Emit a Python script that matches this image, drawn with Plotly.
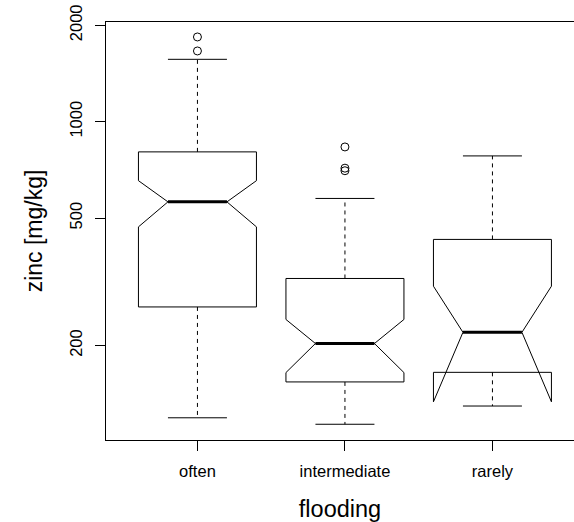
import plotly.graph_objects as go

# Zinc concentration by flooding frequency (notched boxplot summary statistics)
categories = ["often", "intermediate", "rarely"]
positions = [1, 2, 3]
lower_whisker = [119, 113.6, 129.5]
q1 = [264, 154, 165]
median = [562, 203, 220]
q3 = [805, 324, 429]
upper_whisker = [1566, 576, 782]
notch_span = [92.5, 38.3, 86.5]
outliers = {
    "often": [1839, 1663],
    "intermediate": [834, 716, 703],
    "rarely": [],
}
y_ticks = [200, 500, 1000, 2000]

BOX_WIDTH = 0.8
HALF = BOX_WIDTH / 2
CAP = HALF / 2
FONT = "Liberation Sans, Arial, Helvetica, sans-serif"

fig = go.Figure()

# Boxes with notches (whiskers drawn separately as dashed lines)
fig.add_trace(go.Box(
    x=positions,
    q1=q1, median=median, q3=q3,
    lowerfence=q1, upperfence=q3,
    notchspan=notch_span,
    notched=True, notchwidth=0.25,
    width=BOX_WIDTH, whiskerwidth=0, showwhiskers=False,
    line=dict(color="black", width=1),
    fillcolor="rgba(0,0,0,0)",
    boxpoints=False, hoverinfo="skip", showlegend=False,
))

# Dashed whiskers
wx, wy = [], []
for p, a, b, c, d in zip(positions, lower_whisker, q1, q3, upper_whisker):
    wx += [p, p, None, p, p, None]
    wy += [c, d, None, b, a, None]
fig.add_trace(go.Scatter(x=wx, y=wy, mode="lines",
                         line=dict(color="black", width=1, dash="4px,4px"),
                         hoverinfo="skip", showlegend=False))

# Whisker staples
sx, sy = [], []
for p, a, d in zip(positions, lower_whisker, upper_whisker):
    sx += [p - CAP, p + CAP, None, p - CAP, p + CAP, None]
    sy += [a, a, None, d, d, None]
fig.add_trace(go.Scatter(x=sx, y=sy, mode="lines",
                         line=dict(color="black", width=1),
                         hoverinfo="skip", showlegend=False))

# Thick median bars
mx, my = [], []
for p, m in zip(positions, median):
    mx += [p - CAP, p + CAP, None]
    my += [m, m, None]
fig.add_trace(go.Scatter(x=mx, y=my, mode="lines",
                         line=dict(color="black", width=3),
                         hoverinfo="skip", showlegend=False))

# Outlying points
ox, oy = [], []
for p, cat in zip(positions, categories):
    for v in outliers[cat]:
        ox.append(p)
        oy.append(v)
fig.add_trace(go.Scatter(x=ox, y=oy, mode="markers",
                         marker=dict(symbol="circle-open", size=8,
                                     color="black", line=dict(width=1)),
                         hoverinfo="skip", showlegend=False))

fig.update_layout(
    width=574, height=522,
    margin=dict(l=106, r=0, t=22, b=82),
    paper_bgcolor="white", plot_bgcolor="white",
    font=dict(family=FONT, color="black", size=16.5),
    showlegend=False,
    xaxis=dict(
        range=[0.38, 3.553],
        tickvals=positions, ticktext=categories,
        ticks="outside", ticklen=10, tickcolor="black", tickwidth=1,
        ticklabelstandoff=6,
        showline=True, mirror=True, linecolor="black", linewidth=1,
        showgrid=False, zeroline=False, automargin=False,
        tickfont=dict(size=16.5),
        title=dict(text="flooding", font=dict(size=23.5), standoff=24),
    ),
    yaxis=dict(
        type="log",
        range=[2.0062, 3.3113],
        tickvals=y_ticks, ticktext=[str(v) for v in y_ticks],
        tickangle=-90,
        ticks="outside", ticklen=10, tickcolor="black", tickwidth=1,
        ticklabelstandoff=6,
        showline=True, mirror=False, linecolor="black", linewidth=1,
        showgrid=False, zeroline=False, automargin=False,
        tickfont=dict(size=16.5),
        title=dict(text="zinc [mg/kg]", font=dict(size=23), standoff=18),
    ),
)

fig.write_html("out.html")
